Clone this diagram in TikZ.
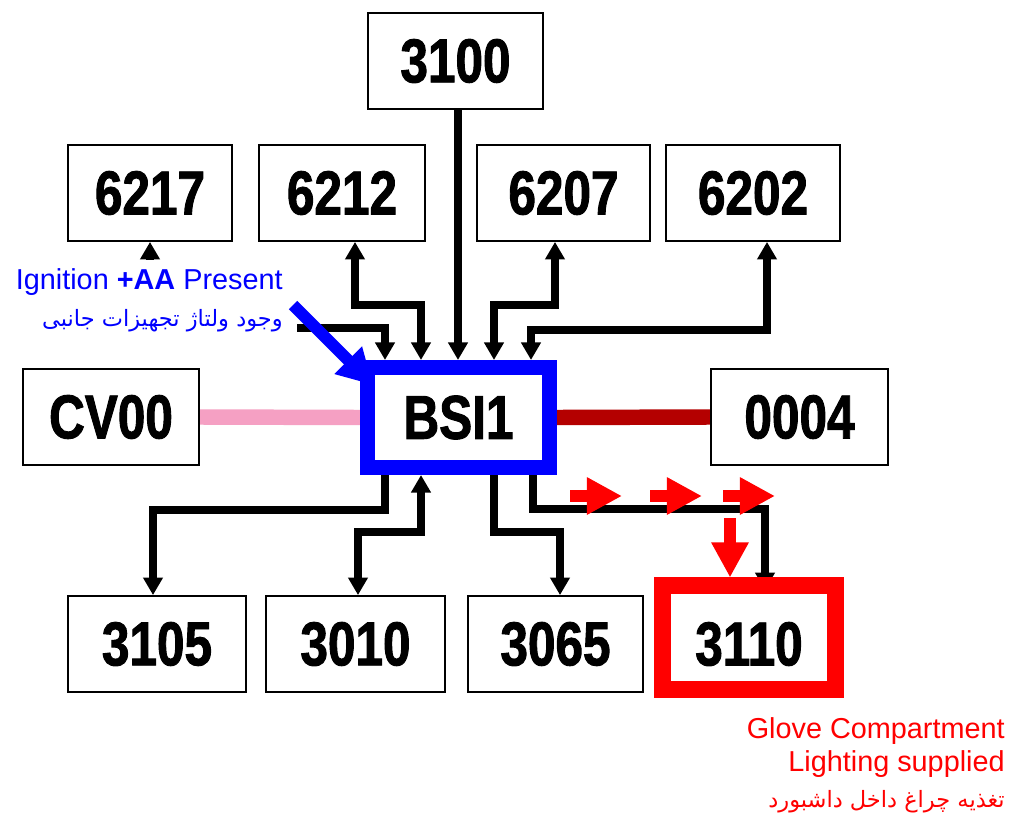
\documentclass[tikz,border=0pt]{standalone}
\usepackage{fontspec}
\setmainfont{Liberation Sans}
\newfontfamily\boxfont[FakeStretch=0.8,FakeBold=1.5]{Liberation Sans}
\newfontfamily\fafont[Script=Arabic]{DejaVu Sans}
\TeXXeTstate=1
\usetikzlibrary{arrows.meta,backgrounds}

\definecolor{bsiblue}{RGB}{0,0,255}
\definecolor{glovered}{RGB}{255,0,0}
\definecolor{canpink}{RGB}{245,160,195}
\definecolor{vanred}{RGB}{180,0,0}

\begin{document}
\begin{tikzpicture}[
    x=0.025cm, y=-0.025cm,
    >={Triangle[width=13.5pt, length=12.5pt]},
    box/.style      = {draw, line width=1.3pt, fill=white, inner sep=0pt,
                       minimum height=96*0.025cm,
                       font=\boxfont\bfseries\fontsize{44}{46}\selectfont},
    wire/.style     = {line width=5.2pt},
    bus/.style      = {line width=11pt},
    lbl/.style      = {font=\fontsize{20.5}{23.5}\selectfont},
    farsi/.style    = {font=\fafont\fontsize{16}{19}\selectfont},
    redarrow/.style = {draw=glovered, line width=8.5pt,
                       -{Triangle[width=25pt, length=25pt]}}
]
\useasboundingbox (0,0) rectangle (1011,814);

% Modules
\foreach \n/\x/\y/\w in {3100/455.5/61/175, 6217/150/193/164, 6212/342/193/166,
        6207/563.5/193/173, 6202/753/193/174, CV00/111/417/176, 0004/799.5/417/177,
        3105/157/644/178, 3010/355.5/644/179, 3065/555.5/644/175}
    \node[box, minimum width=\w*0.025cm] (b\n) at (\x,\y) {\n};

\node[box, draw=bsiblue, line width=10.7pt, minimum width=182*0.025cm,
      minimum height=100*0.025cm] (bsi) at (458.5,417.5) {BSI1};
\node[box, draw=glovered, line width=11.4pt, minimum width=173*0.025cm,
      minimum height=104*0.025cm, text height=40pt] (b3110) at (749,637.5) {3110};

\begin{scope}[on background layer]
\fill[white] (0,0) rectangle (1011,814);
% Buses
\draw[bus, canpink] (bCV00.east) -- (bsi.west);
\draw[bus, vanred] (bsi.east) -- (b0004.west);

% Upper connections
\draw[wire, <->] (b6217.south) |- (385,328) -- (bsi.north -| 385,0);
\draw[wire, <->] (b6212.south -| 355,0) |- (421,305) -- (bsi.north -| 421,0);
\draw[wire, ->] (b3100.south -| 458,0) -- (bsi.north -| 458,0);
\draw[wire, <->] (b6207.south -| 555,0) |- (494,305) -- (bsi.north -| 494,0);
\draw[wire, <->] (b6202.south -| 767,0) |- (531,330) -- (bsi.north -| 531,0);

% Lower connections
\draw[wire, ->] (bsi.south -| 385,0) |- (153,510) -- (b3105.north -| 153,0);
\draw[wire, <->] (bsi.south -| 421,0) |- (358,532) -- (b3010.north -| 358,0);
\draw[wire, ->] (bsi.south -| 494,0) |- (560,532) -- (b3065.north -| 560,0);
\draw[wire, ->, shorten >=-9pt] (bsi.south -| 533,0) |- (765,509)
    -- (b3110.north -| 765,0);
\end{scope}

% Annotations
\node[lbl, text=bsiblue, fill=white, anchor=east, align=right,
      inner xsep=10pt, inner ysep=6pt] (ign) at (297,300)
    {Ignition \textbf{+AA} Present\\[3pt]
     {\fafont\fontsize{16}{19}\selectfont\beginR وجود ولتاژ تجهیزات جانبی\endR}};
\draw[bsiblue, line width=8.5pt, -{Triangle[width=26pt, length=25pt]}]
    (293,305) -- (373,385);

\foreach \x in {570,650,723}
    \draw[redarrow] (\x,496) -- ++(52,0);
\draw[redarrow] (730,518) -- (b3110.north -| 730,0);

\node[lbl, text=glovered, anchor=north east, align=right, inner sep=0pt]
    (glove) at (1005,717)
    {Glove Compartment\\Lighting supplied\\[2pt]
     {\fafont\fontsize{16}{19}\selectfont\beginR تغذیه چراغ داخل داشبورد\endR}};

\end{tikzpicture}
\end{document}
